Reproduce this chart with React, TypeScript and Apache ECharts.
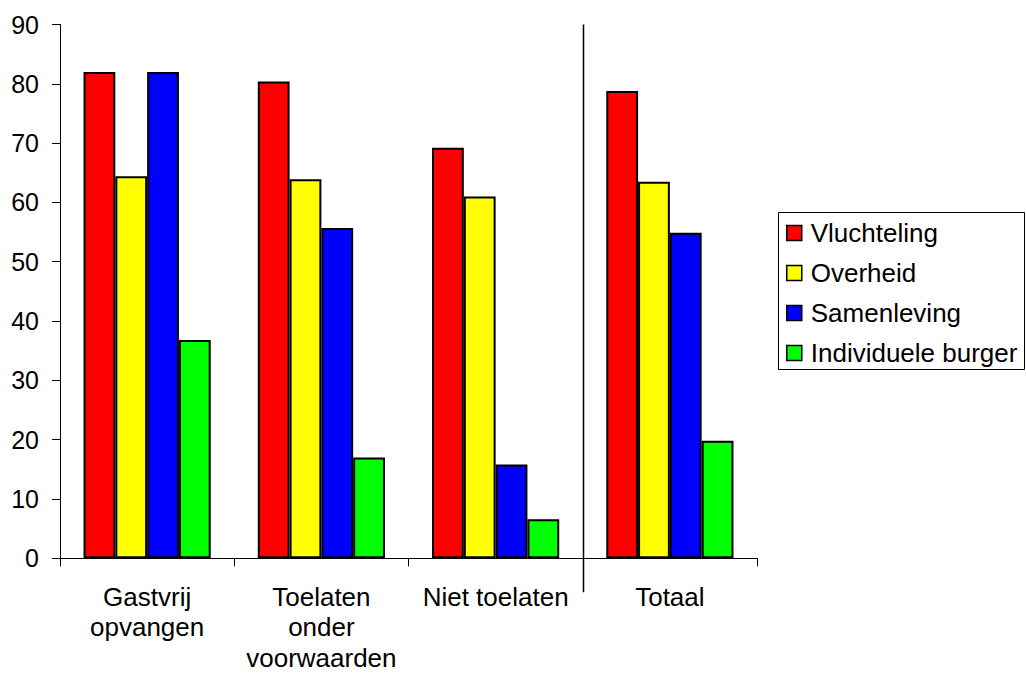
import React, { useEffect, useRef } from "react";
import * as echarts from "echarts";

const categories = ["Gastvrij\nopvangen", "Toelaten\nonder\nvoorwaarden", "Niet toelaten", "Totaal"];
const seriesNames = ["Vluchteling", "Overheid", "Samenleving", "Individuele burger"];
const vluchteling = [82.0, 80.4, 69.2, 78.8];
const overheid = [64.4, 63.9, 61.0, 63.5];
const samenleving = [82.0, 55.7, 15.8, 54.9];
const individueleBurger = [36.8, 17.0, 6.6, 19.8];
const seriesColors = ["#FF0000", "#FFFF00", "#0000FF", "#00FF00"];
const yMin = 0;
const yMax = 90;
const yInterval = 10;

const FONT = "'Liberation Sans', Arial, sans-serif";

export default function App() {
  const ref = useRef<HTMLDivElement>(null);
  useEffect(() => {
    if (!ref.current) return;
    const chart = echarts.init(ref.current, null, { renderer: "svg" });
    const values = [vluchteling, overheid, samenleving, individueleBurger];
    const option: any = {
      animation: false,
      backgroundColor: "#ffffff",
      textStyle: { fontFamily: FONT },
      grid: { left: 60, right: 269, top: 24.5, bottom: 114.7, containLabel: false, outerBoundsMode: "none" },
      legend: {
        orient: "vertical",
        left: 786,
        top: 220,
        padding: 0,
        itemWidth: 15,
        itemHeight: 15,
        itemGap: 14,
        icon: "rect",
        data: seriesNames,
        itemStyle: { borderColor: "#000", borderWidth: 1.5 },
        textStyle: { fontSize: 26, color: "#000", fontFamily: FONT, lineHeight: 26, padding: [0, 0, 0, 4] },
      },
      xAxis: {
        type: "category",
        data: categories,
        axisLine: { lineStyle: { color: "#000", width: 1 } },
        axisTick: { show: true, length: 8, lineStyle: { color: "#000" } },
        axisLabel: { color: "#000", fontSize: 26, lineHeight: 30.5, margin: 23, interval: 0, fontFamily: FONT },
        splitLine: { show: false },
      },
      yAxis: {
        type: "value",
        min: yMin,
        max: yMax,
        interval: yInterval,
        axisLine: { show: true, lineStyle: { color: "#000", width: 1 } },
        axisTick: { show: true, length: 8, lineStyle: { color: "#000" } },
        axisLabel: { color: "#000", fontSize: 25, margin: 21, fontFamily: FONT },
        splitLine: { show: false },
      },
      series: seriesNames.map((name, i) => ({
        name,
        type: "bar",
        data: values[i],
        barGap: "0%",
        barCategoryGap: "27%",
        itemStyle: { color: seriesColors[i], borderColor: "#000", borderWidth: 2 },
      })),
    };
    chart.setOption(option);
    const x2 = chart.convertToPixel({ xAxisIndex: 0 }, 2) as number;
    const x3 = chart.convertToPixel({ xAxisIndex: 0 }, 3) as number;
    const yTop = chart.convertToPixel({ yAxisIndex: 0 }, yMax) as number;
    const yBottom = chart.convertToPixel({ yAxisIndex: 0 }, yMin) as number;
    const sepX = Math.round((x2 + x3) / 2) + 0.5;
    chart.setOption({
      graphic: [
        {
          type: "line",
          shape: { x1: sepX, y1: yTop, x2: sepX, y2: yBottom + 34 },
          style: { stroke: "#000", lineWidth: 1.5 },
        },
        {
          type: "rect",
          shape: { x: 778.5, y: 212.5, width: 246, height: 157 },
          style: { fill: "none", stroke: "#000", lineWidth: 1 },
        },
      ],
    });
    return () => chart.dispose();
  }, []);
  return <div ref={ref} style={{ width: 1026, height: 673, position: "absolute", left: 0, top: 0 }} />;
}
